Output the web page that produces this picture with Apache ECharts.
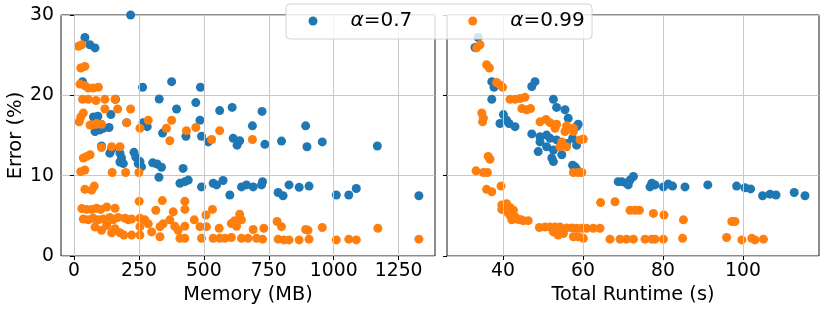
<!DOCTYPE html>
<html>
<head>
<meta charset="utf-8">
<script src="https://cdn.jsdelivr.net/npm/echarts@6/dist/echarts.min.js"></script>
<style>html,body{margin:0;padding:0;background:#fff}#c{width:830px;height:312px}</style>
</head>
<body>
<div id="c"></div>
<script>
const seriesNames = ['α=0.7', 'α=0.99'];
const memTicks = [0, 250, 500, 750, 1000, 1250];
const rtTicks = [40, 60, 80, 100];
const errTicks = [0, 10, 20, 30];

// Memory (MB) vs Error (%)
const memBlue = [[218,30.0],[42,27.2],[61,26.3],[81,25.9],[33,21.7],[376,21.7],[264,21.0],[487,21.0],[328,19.55],[469,19.1],[395,18.3],[160,19.5],[561,18.1],[609,18.5],[724,18.0],
[142,17.6],[75,17.3],[85,17.0],[92,17.4],[485,16.9],[203,16.6],[266,16.6],[282,16.1],[687,16.2],[135,16.0],
[81,15.5],[100,15.7],[113,15.9],[341,15.3],[431,14.9],[491,14.9],[517,14.2],[613,14.65],[638,14.35],[628,13.8],
[106,13.7],[138,12.8],[145,13.3],[177,12.8],[183,12.2],[190,11.5],[177,11.7],[231,12.9],[238,12.3],[254,11.75],[260,11.1],[247,11.5],[303,11.6],[320,11.45],[337,11.05],[327,9.8],[420,10.9],[408,9.05],[427,9.25],[440,9.45],[491,8.6],[536,9.05],[549,8.85],[574,9.4],[600,7.6],[645,8.6],[664,8.85],[690,8.6],
[892,16.2],[735,13.9],[799,14.3],[897,13.6],[956,14.2],[1168,13.7],
[722,8.85],[726,9.25],[786,7.9],[805,7.5],[828,8.85],[867,8.55],[905,8.7],[1010,7.6],[1058,7.6],[1087,8.4],[1328,7.5]];

const memOrange = [[17,26.1],[30,26.3],[26,23.4],[42,23.6],[23,21.4],[42,21.2],[55,20.9],[74,20.9],[94,21.0],
[33,19.5],[55,19.5],[85,19.35],[119,19.5],[158,19.5],[119,18.3],[168,18.3],[218,18.3],
[36,17.8],[26,17.3],[20,16.7],[286,16.9],[376,16.9],[68,16.3],[85,16.4],[106,16.4],[203,16.6],
[62,16.3],[87,16.5],[254,15.9],[356,15.9],[369,14.35],[433,15.6],[469,16.0],[530,14.5],[561,15.6],[687,14.5],
[106,13.5],[145,13.6],[177,13.6],[36,12.2],[49,12.4],[62,12.6],[26,10.5],[42,10.7],[147,10.4],[199,10.4],[250,10.4],
[42,8.3],[68,8.2],[78,8.7],
[30,5.9],[49,5.8],[68,5.8],[87,5.95],[103,5.8],[126,6.1],[158,5.95],[251,6.8],[340,6.9],[315,5.7],[382,5.5],[427,6.8],[427,5.8],[533,5.8],[508,5.1],[638,5.2],[619,4.4],
[36,4.6],[55,4.5],[74,4.7],[94,4.5],[113,4.6],[138,4.8],[151,4.5],[170,4.8],[196,4.7],[209,4.5],[222,4.6],
[81,3.6],[106,3.2],[126,3.8],[145,2.9],[158,3.4],[177,2.9],[192,2.6],
[254,4.7],[273,4.5],[286,4.0],[254,3.65],[299,3.0],[331,3.65],[343,4.0],[369,4.5],[388,3.7],[401,3.2],[427,3.7],
[222,2.6],[254,2.6],[331,2.4],[408,2.2],[427,2.2],[491,2.2],
[463,4.5],[485,3.65],[510,3.65],[559,3.45],[606,4.05],[626,3.7],[645,4.5],[690,3.3],
[536,2.2],[561,2.2],[581,2.2],[606,2.3],[645,2.2],[670,2.2],[703,2.2],
[731,3.45],[782,4.3],[799,3.65],[892,3.3],[901,3.2],[956,3.55],[1170,3.45],
[726,2.1],[786,2.1],[808,2.0],[828,2.0],[867,2.0],[905,2.1],[1010,2.0],[1058,2.1],[1087,2.0],[1328,2.1]];

// Total Runtime (s) vs Error (%)
const rtBlue = [[33.8,27.2],[33,25.95],[37.2,21.7],[37.75,21.0],[47.2,21.1],[48.0,21.7],[37.2,19.5],[52.6,19.5],[53.4,18.5],[55.5,18.2],[56.3,17.15],[40.1,17.6],[40.9,16.9],[39.25,16.5],[58.4,16.1],[58.8,16.4],[43,16.1],[41.5,16.5],
[47.2,15.2],[49.25,14.85],[50.9,15.05],[51.75,14.65],[53.4,14.45],[55.9,14.0],[58.4,13.8],[57.4,14.65],[49.25,14.2],[50.9,13.6],[52.6,13.2],[48.8,13.0],[52.2,12.2],[52.6,11.75],[54.7,12.6],[57.4,11.3],[58,11.1],[58.4,10.8],
[68.8,9.25],[69.7,9.25],[70.9,9.05],[71.75,9.45],[72.6,9.9],[71.3,8.85],[77.2,9.05],[76.75,8.6],[78,8.85],[80.1,8.6],[81.3,8.95],[82.4,8.7],[85.5,8.6],[91.2,8.85],[98.4,8.7],[100.5,8.5],[101.9,8.35],[104.9,7.5],[106.75,7.7],[108.25,7.6],[112.8,7.9],[115.5,7.5]];

const rtOrange = [[34.25,26.3],[33.4,25.9],[35.9,23.8],[36.6,23.4],[38.4,21.6],[39.25,21.3],[39.9,21.0],[41.75,19.5],[43,19.5],[44.25,19.6],[45.5,19.75],[44.7,18.35],[45.9,18.2],[46.9,18.35],[49.25,16.7],[50.75,17.0],[51.75,16.6],[53.4,16.4],[55.9,16.2],[57.6,15.9],[34.7,17.8],[35.1,17.15],[34.9,16.7],[53,15.9],[55.5,15.5],[57.6,15.5],
[54.7,14.2],[54.25,13.6],[55.9,13.6],[59.25,14.45],[60.1,14.55],[57.6,10.4],[58.8,10.4],[59.7,10.4],[36.3,12.4],[36.75,12.05],[33.25,10.6],[35.1,10.4],[36.1,10.4],[35.9,8.3],[37.2,8.0],[39.5,8.7],
[39.7,6.35],[39.7,5.8],[40.9,6.5],[41.75,6.05],[42.6,5.7],[41.75,5.1],[42.2,4.5],[43.8,4.55],[45.1,4.4],[46.3,4.4],[40.5,5.9],[41.2,5.4],[43,4.9],[44.5,4.5],
[49.1,3.55],[50.5,3.6],[51.75,3.6],[53,3.6],[54.25,3.6],[55.9,3.5],[57.2,3.5],[58.4,3.45],[59.7,3.45],[60.9,3.45],[62.6,3.45],[64.25,3.45],
[52.6,3.0],[53.8,2.6],[55.1,2.8],[57.6,2.4],[58.8,2.4],[60.1,2.2],
[64.4,6.65],[68,6.75],[66.75,2.1],[69.25,2.1],
[71.75,5.7],[73,5.7],[74.1,5.7],[77.6,5.3],[80.25,5.1],[85.1,4.5],[97.2,4.3],[98,4.3],
[70.9,2.1],[72.6,2.1],[75.5,2.1],[77.2,2.1],[78,2.1],[80.1,2.1],[84.9,2.2],[95.9,2.3],[99.7,2.0],[102.2,2.2],[103,2.0],[105.1,2.1]];

const BLUE = '#1f77b4', ORANGE = '#ff7f0e', GRIDC = '#c8c8c8';
const FONT = 'DejaVu Sans';
const chart = echarts.init(document.getElementById('c'), null, {renderer: 'canvas'});

function xAxisCfg(idx, min, max, ticks, name) {
  return {
    type: 'value', gridIndex: idx, min: min, max: max,
    name: name, nameLocation: 'middle', nameGap: 23,
    nameTextStyle: {fontSize: 19.3, fontFamily: FONT, color: '#000'},
    axisLine: {show: false},
    axisTick: {show: true, inside: false, length: 4, customValues: ticks, lineStyle: {color: '#000', width: 1}},
    axisLabel: {show: true, customValues: ticks, margin: 6, fontSize: 18.8, fontFamily: FONT, color: '#000',
      formatter: v => String(v)},
    splitLine: {show: false}
  };
}
function yAxisCfg(idx, showLabel) {
  return {
    type: 'value', gridIndex: idx, min: 0, max: 30, interval: 10,
    name: showLabel ? 'Error (%)' : '', nameLocation: 'middle', nameGap: 31,
    nameTextStyle: {fontSize: 19.5, fontFamily: FONT, color: '#000'},
    axisLine: {show: false},
    axisTick: {show: true, inside: false, length: 4, lineStyle: {color: '#000', width: 1}},
    axisLabel: {show: showLabel, margin: 7, fontSize: 18.8, fontFamily: FONT, color: '#000',
      formatter: v => String(v)},
    splitLine: {show: true, lineStyle: {color: GRIDC, width: 1}}
  };
}
function gridLines(xi, ticks) {
  return {
    type: 'scatter', xAxisIndex: xi, yAxisIndex: xi, data: [], z: 1, silent: true,
    markLine: {silent: true, symbol: ['none', 'none'], label: {show: false}, animation: false,
      lineStyle: {color: GRIDC, type: 'solid', width: 1},
      emphasis: {disabled: true},
      data: ticks.map(v => ({xAxis: v}))}
  };
}
function pts(name, xi, data, color) {
  return {type: 'scatter', name: name, xAxisIndex: xi, yAxisIndex: xi, data: data,
    symbol: 'circle', symbolSize: 9, itemStyle: {color: color, opacity: 1}, z: 2, clip: false};
}

chart.setOption({
  animation: false,
  backgroundColor: '#fff',
  grid: [
    {left: 61, top: 15, width: 374, height: 241, show: true, borderColor: '#1a1a1a', borderWidth: 1, backgroundColor: 'transparent', outerBoundsMode: 'none'},
    {left: 447, top: 15, width: 372, height: 241, show: true, borderColor: '#1a1a1a', borderWidth: 1, backgroundColor: 'transparent', outerBoundsMode: 'none'}
  ],
  xAxis: [xAxisCfg(0, -50, 1390, memTicks, 'Memory (MB)'), xAxisCfg(1, 26, 119, rtTicks, 'Total Runtime (s)')],
  yAxis: [yAxisCfg(0, true), yAxisCfg(1, false)],
  graphic: [{type: 'rect', z: 9, silent: true, shape: {x: 286, y: 4, width: 306, height: 35, r: 4},
    style: {fill: 'rgba(255,255,255,0.8)', stroke: '#d4d4d4', lineWidth: 1}}],
  legend: {
    data: seriesNames, left: 308.5, top: 11, padding: 0, itemWidth: 9, itemHeight: 9, itemGap: 56,
    icon: 'circle', z: 10, selectedMode: false,
    formatter: n => '{i|α}' + n.slice(1),
    textStyle: {fontSize: 20, fontFamily: FONT, color: '#000',
      rich: {i: {fontStyle: 'italic', fontSize: 20, fontFamily: FONT, color: '#000', padding: [0, 0, 0, 28]}}}
  },
  series: [
    gridLines(0, memTicks), gridLines(1, rtTicks),
    pts(seriesNames[0], 0, memBlue, BLUE), pts(seriesNames[1], 0, memOrange, ORANGE),
    pts(seriesNames[0], 1, rtBlue, BLUE), pts(seriesNames[1], 1, rtOrange, ORANGE)
  ]
});
</script>
</body>
</html>
